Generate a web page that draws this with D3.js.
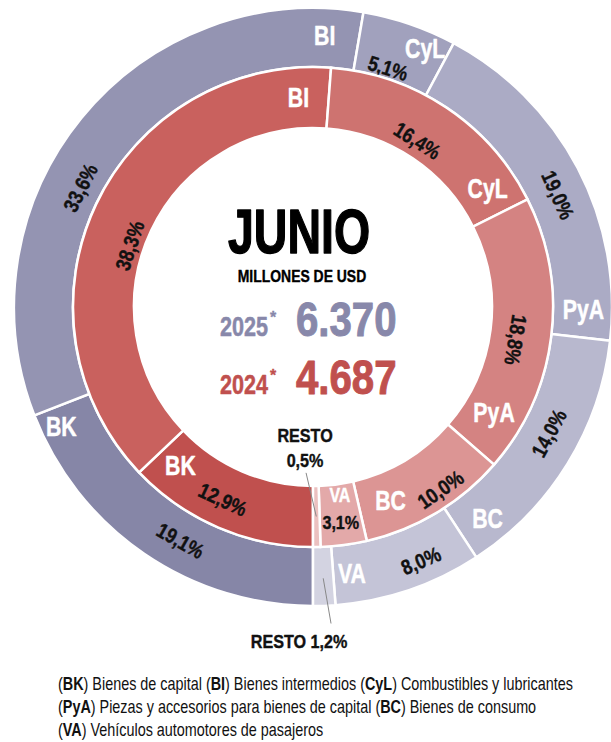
<!DOCTYPE html>
<html>
<head>
<meta charset="utf-8">
<script src="https://cdn.jsdelivr.net/npm/d3@7"></script>
<style>
  body { margin: 0; background: #fff; }
  svg { display: block; }
  text { font-family: "Liberation Sans", Arial, sans-serif; }
</style>
</head>
<body>
<script>
// DATA
var categories = ['BK', 'BI', 'CyL', 'PyA', 'BC', 'VA', 'RESTO'];
var values2025 = [19.1, 33.6, 5.1, 19.0, 14.0, 8.0, 1.2];
var values2024 = [12.9, 38.3, 16.4, 18.8, 10.0, 3.1, 0.5];
var years = ['2025', '2024'];
var totals = ['6.370', '4.687'];
var month = 'JUNIO';
var unitLabel = 'MILLONES DE USD';
var legendLines = [
  [['BK', ' Bienes de capital '], ['BI', ' Bienes intermedios '], ['CyL', ' Combustibles y lubricantes']],
  [['PyA', ' Piezas y accesorios para bienes de capital '], ['BC', ' Bienes de consumo']],
  [['VA', ' Vehículos automotores de pasajeros']]
];

// STYLES
var colors2025 = ['#8686a7', '#9494b2', '#a1a1bd', '#ababc5', '#b8b8ce', '#c4c4d7', '#d3d3e1'];
var colors2024 = ['#c0504e', '#c9615e', '#ce7370', '#d48382', '#dc9594', '#e3a9a9', '#ebc1c0'];
var yearColors = ['#8888aa', '#c0504e'];

var width = 611, height = 742;
var cx = 313, cy = 307;
var nameSqueeze = 0.76; // horizontal squeeze to imitate a condensed face
var pctSqueeze = 0.85;

// label placement along each slice: [fraction of slice, radius offset from ring middle]
var outerNamePos = [[0.94, 9], [0.94, 3], [0.745, 13], [0.91, 1], [0.87, 4], [0.86, -1], null];
var outerPctPos  = [[0.43, -1], [0.40, -8], [0.42, -19], [0.546, 0], [0.43, -2], [0.35, 6], null];
var innerNamePos = [[0.86, -3], [0.94, 1], [0.87, 2], [0.84, 0], [0.75, -2], [0.43, -20], null];
var innerPctPos  = [[0.54, 3], [0.45, -16], [0.47, -13], [0.53, -4], [0.39, 13], [0.5, 7], null];

function fmt(v) {
  return v.toFixed(1).replace('.', ',') + '%';
}

function pt(a, r) {
  return [cx + r * Math.sin(a), cy - r * Math.cos(a)];
}

// bold text with a thin outline of its own colour, so it reads heavier
function heavy(sel, color, sw) {
  return sel.attr('font-weight', 'bold')
    .attr('fill', color)
    .attr('stroke', color)
    .attr('stroke-width', sw)
    .attr('stroke-linejoin', 'round');
}

document.addEventListener('DOMContentLoaded', function() {

  var svg = d3.select('body')
    .append('svg')
    .attr('width', width)
    .attr('height', height);

  var pie = d3.pie()
    .sort(null)
    .startAngle(Math.PI)
    .endAngle(3 * Math.PI)
    .value(function(d) { return d; });

  var rings = [
    { values: values2025, colors: colors2025, r0: 240, r1: 299, names: outerNamePos, pcts: outerPctPos },
    { values: values2024, colors: colors2024, r0: 179, r1: 240, names: innerNamePos, pcts: innerPctPos }
  ];

  rings.forEach(function(ring, ri) {
    var arcs = pie(ring.values);
    var arc = d3.arc().innerRadius(ring.r0).outerRadius(ring.r1);
    var mid = (ring.r0 + ring.r1) / 2;
    ring.arcs = arcs;
    ring.mid = mid;

    svg.append('g')
      .attr('transform', 'translate(' + cx + ',' + cy + ')')
      .selectAll('path')
      .data(arcs)
      .enter()
      .append('path')
      .attr('d', arc)
      .attr('fill', function(d, i) { return ring.colors[i]; })
      .attr('stroke', '#fff')
      .attr('stroke-width', 2.5);

    // category names (white, horizontal)
    arcs.forEach(function(d, i) {
      var p = ring.names[i];
      if (!p) return;
      var a = d.startAngle + p[0] * (d.endAngle - d.startAngle);
      var xy = pt(a, mid + p[1]);
      var small = (ri === 1 && categories[i] === 'VA');
      heavy(svg.append('text'), '#fff', 0.5)
        .attr('transform', 'translate(' + xy[0] + ',' + xy[1] + ') scale(' + nameSqueeze + ',1)')
        .attr('text-anchor', 'middle')
        .attr('dy', '0.36em')
        .attr('font-size', small ? 21 : 28)
        .text(categories[i]);
    });

    // percentages (black, following the ring)
    arcs.forEach(function(d, i) {
      var p = ring.pcts[i];
      if (!p) return;
      var a = d.startAngle + p[0] * (d.endAngle - d.startAngle);
      var xy = pt(a, mid + p[1]);
      var deg = (a * 180 / Math.PI) % 360;
      if (deg > 100 && deg < 260) deg -= 180;
      var flat = (ri === 1 && categories[i] === 'VA');
      if (flat) deg = 0;
      heavy(svg.append('text'), '#111', 0.4)
        .attr('transform', 'translate(' + xy[0] + ',' + xy[1] + ') rotate(' + deg + ') scale(' + pctSqueeze + ',1)')
        .attr('text-anchor', 'middle')
        .attr('dy', '0.36em')
        .attr('font-size', flat ? 19 : 21)
        .text(fmt(ring.values[i]));
    });
  });

  // RESTO call-outs with leader lines
  var last = categories.length - 1;
  var innerResto = rings[1].arcs[last];
  var iMid = (innerResto.startAngle + innerResto.endAngle) / 2;
  var iA = pt(iMid, rings[1].mid);
  var iB = pt(iMid + 3.3 * Math.PI / 180, rings[1].r0 - 13);
  svg.append('line')
    .attr('x1', iA[0]).attr('y1', iA[1])
    .attr('x2', iB[0]).attr('y2', iB[1])
    .attr('stroke', '#888').attr('stroke-width', 1);
  heavy(svg.append('text'), '#111', 0.4)
    .attr('transform', 'translate(' + (iB[0] - 1) + ',' + (iB[1] - 31) + ') scale(' + pctSqueeze + ',1)')
    .attr('text-anchor', 'middle')
    .attr('font-size', 19)
    .text(categories[last]);
  heavy(svg.append('text'), '#111', 0.4)
    .attr('transform', 'translate(' + (iB[0] - 1) + ',' + (iB[1] - 6) + ') scale(' + pctSqueeze + ',1)')
    .attr('text-anchor', 'middle')
    .attr('font-size', 19)
    .text(fmt(values2024[last]));

  var outerResto = rings[0].arcs[last];
  var oMid = (outerResto.startAngle + outerResto.endAngle) / 2;
  var oA = pt(oMid, rings[0].mid + 2);
  var oB = pt(oMid - 1.1 * Math.PI / 180, rings[0].r1 + 18);
  svg.append('line')
    .attr('x1', oA[0]).attr('y1', oA[1])
    .attr('x2', oB[0]).attr('y2', oB[1])
    .attr('stroke', '#888').attr('stroke-width', 1);
  var ot = heavy(svg.append('text'), '#111', 0.4)
    .attr('transform', 'translate(' + (oB[0] - 32) + ',' + (oB[1] + 25) + ') scale(' + pctSqueeze + ',1)')
    .attr('text-anchor', 'middle')
    .attr('font-size', 19);
  ot.append('tspan').text(categories[last] + ' ');
  ot.append('tspan').text(fmt(values2025[last]));

  // centre block
  heavy(svg.append('text'), '#000', 1.4)
    .attr('transform', 'translate(299,253) scale(0.75,1)')
    .attr('text-anchor', 'middle')
    .attr('font-size', 62)
    .text(month);
  heavy(svg.append('text'), '#000', 0.4)
    .attr('transform', 'translate(302,282) scale(0.82,1)')
    .attr('text-anchor', 'middle')
    .attr('font-size', 17)
    .text(unitLabel);

  var rowY = [336, 394];
  years.forEach(function(y, i) {
    heavy(svg.append('text'), yearColors[i], 0.5)
      .attr('transform', 'translate(268,' + rowY[i] + ') scale(0.8,1)')
      .attr('text-anchor', 'end')
      .attr('font-size', 27)
      .text(y);
    heavy(svg.append('text'), yearColors[i], 0.3)
      .attr('transform', 'translate(270,' + (rowY[i] - 13) + ')')
      .attr('font-size', 16)
      .text('*');
    heavy(svg.append('text'), yearColors[i], 1)
      .attr('transform', 'translate(296,' + rowY[i] + ') scale(0.82,1)')
      .attr('font-size', 49)
      .text(totals[i]);
  });

  // legend
  var legendY = [690, 713, 736];
  legendLines.forEach(function(line, li) {
    var t = svg.append('text')
      .attr('transform', 'translate(58,' + legendY[li] + ') scale(0.8,1)')
      .attr('font-size', 18).attr('fill', '#111');
    line.forEach(function(part) {
      t.append('tspan').text('(');
      t.append('tspan').attr('font-weight', 'bold').text(part[0]);
      t.append('tspan').text(')' + part[1]);
    });
  });

});
</script>
</body>
</html>
